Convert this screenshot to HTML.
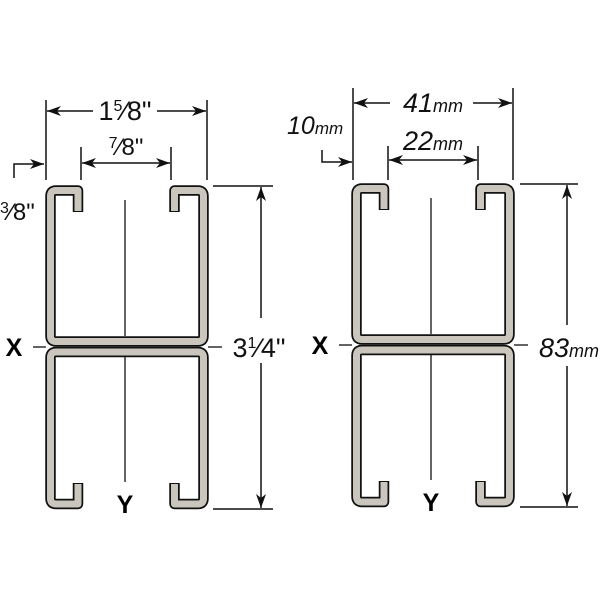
<!DOCTYPE html>
<html><head><style>body{margin:0;background:#fff}svg{display:block}</style></head>
<body>
<svg width="600" height="600" viewBox="0 0 600 600" xmlns="http://www.w3.org/2000/svg" font-family="Liberation Sans, Arial, sans-serif">
<defs>
<marker id="a" viewBox="0 0 14 10" refX="14" refY="5" markerWidth="14" markerHeight="10" markerUnits="userSpaceOnUse" orient="auto-start-reverse"><path d="M0,0 L14,5 L0,10 L4,5 Z" fill="#111"/></marker>
<g id="ch">
<path d="M78,212 V190.5 H56 Q50.5,190.5 50.5,196 V336 Q50.5,341.5 56,341.5 H198 Q203.5,341.5 203.5,336 V196 Q203.5,190.5 198,190.5 H174.5 V212" fill="none" stroke="#111" stroke-width="10.5" stroke-linejoin="round"/>
<path d="M78,211 V190.5 H56 Q50.5,190.5 50.5,196 V336 Q50.5,341.5 56,341.5 H198 Q203.5,341.5 203.5,336 V196 Q203.5,190.5 198,190.5 H174.5 V211" fill="none" stroke="#cbc6bd" stroke-width="7" stroke-linejoin="round"/>
<path d="M78,483 V504 H56 Q50.5,504 50.5,498.5 V357.5 Q50.5,352 56,352 H198 Q203.5,352 203.5,357.5 V498.5 Q203.5,504 198,504 H174.5 V483" fill="none" stroke="#111" stroke-width="10.5" stroke-linejoin="round"/>
<path d="M78,484 V504 H56 Q50.5,504 50.5,498.5 V357.5 Q50.5,352 56,352 H198 Q203.5,352 203.5,357.5 V498.5 Q203.5,504 198,504 H174.5 V484" fill="none" stroke="#cbc6bd" stroke-width="7" stroke-linejoin="round"/>
<line x1="125" y1="200" x2="125" y2="336" stroke="#111" stroke-width="1.3"/>
<line x1="125" y1="357" x2="125" y2="482" stroke="#111" stroke-width="1.3"/>
<line x1="33" y1="347" x2="46" y2="347" stroke="#111" stroke-width="1.3"/>
<line x1="208" y1="347" x2="222" y2="347" stroke="#111" stroke-width="1.3"/>
<text x="14" y="356" font-size="25" font-weight="bold" text-anchor="middle">X</text>
<text x="125" y="513" font-size="25" font-weight="bold" text-anchor="middle">Y</text>
</g>
</defs>
<g stroke="#111" stroke-width="1.5" fill="none">
<line x1="46" y1="100" x2="46" y2="180"/><line x1="207" y1="100" x2="207" y2="180"/>
<line x1="93" y1="111" x2="47" y2="111" marker-end="url(#a)"/><line x1="157" y1="111" x2="206" y2="111" marker-end="url(#a)"/>
<line x1="81" y1="147" x2="81" y2="180"/><line x1="171" y1="147" x2="171" y2="180"/>
<line x1="82" y1="163" x2="170" y2="163" marker-start="url(#a)" marker-end="url(#a)"/>
<path d="M14,178 V164 H44" marker-end="url(#a)"/>
<line x1="213" y1="186" x2="273" y2="186"/><line x1="213" y1="509" x2="273" y2="509"/>
<line x1="261" y1="318" x2="261" y2="187" marker-end="url(#a)"/><line x1="261" y1="363" x2="261" y2="508" marker-end="url(#a)"/>
<line x1="353" y1="88" x2="353" y2="180"/><line x1="513" y1="88" x2="513" y2="180"/>
<line x1="390" y1="103" x2="354" y2="103" marker-end="url(#a)"/><line x1="473" y1="103" x2="512" y2="103" marker-end="url(#a)"/>
<line x1="388" y1="146" x2="388" y2="180"/><line x1="478" y1="146" x2="478" y2="180"/>
<line x1="389" y1="160" x2="477" y2="160" marker-start="url(#a)" marker-end="url(#a)"/>
<path d="M322,150 V162 H352" marker-end="url(#a)"/>
<line x1="520" y1="184" x2="578" y2="184"/><line x1="520" y1="507" x2="578" y2="507"/>
<line x1="567" y1="325" x2="567" y2="185" marker-end="url(#a)"/><line x1="567" y1="366" x2="567" y2="506" marker-end="url(#a)"/>
</g>
<use href="#ch"/>
<use href="#ch" transform="translate(306,-2)"/>
<g fill="#111">
<text x="125" y="120" font-size="27" text-anchor="middle">1<tspan font-size="16" dy="-9">5</tspan><tspan dy="9">⁄8"</tspan></text>
<text x="126" y="155" font-size="24" text-anchor="middle"><tspan font-size="16" dy="-7">7</tspan><tspan dy="7">⁄8"</tspan></text>
<text x="0" y="220" font-size="24"><tspan font-size="16" dy="-7">3</tspan><tspan dy="7">⁄8"</tspan></text>
<text x="259" y="357" font-size="27" text-anchor="middle">3<tspan font-size="16" dy="-9">1</tspan><tspan dy="9">⁄4"</tspan></text>
<text x="433" y="112" font-size="27" font-style="italic" text-anchor="middle">41<tspan font-size="18">mm</tspan></text>
<text x="433" y="150" font-size="27" font-style="italic" text-anchor="middle">22<tspan font-size="18">mm</tspan></text>
<text x="287" y="134" font-size="25" font-style="italic">10<tspan font-size="17">mm</tspan></text>
<text x="569" y="357" font-size="27" font-style="italic" text-anchor="middle">83<tspan font-size="18">mm</tspan></text>
</g>
</svg>
</body></html>
